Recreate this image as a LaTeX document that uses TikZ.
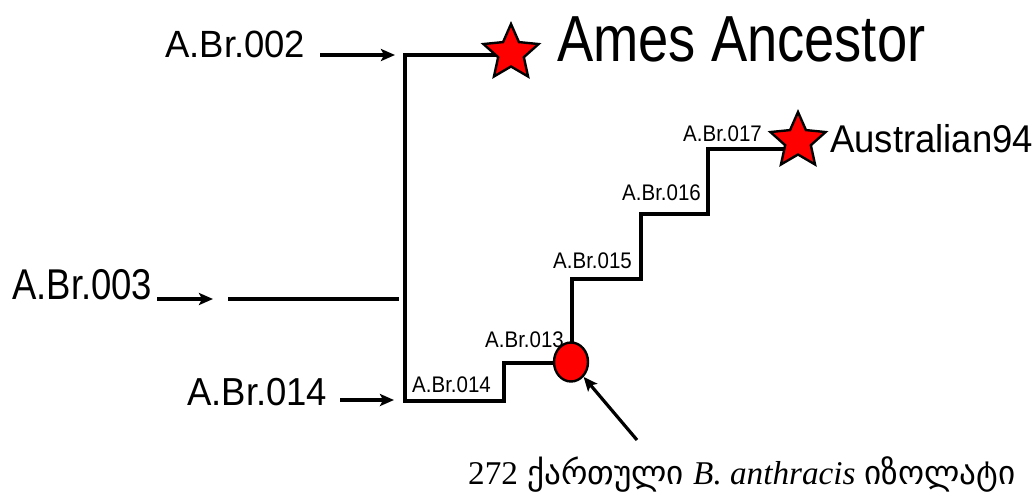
\documentclass[tikz,border=0pt]{standalone}
\usepackage{fontspec}
\setmainfont{Liberation Sans}
\newfontfamily\geofont[Script=Georgian]{DejaVu Sans}
\newfontfamily\serifrm{Liberation Serif}
\usetikzlibrary{shapes.geometric,arrows.meta,backgrounds}
\newcommand\vstretch[2]{\scalebox{1}[#1]{#2}}
\tikzset{
  tree/.style={line width=3.4pt, line join=miter},
  arr/.style={line width=3.2pt, -{Stealth[length=14pt,width=12pt,inset=3pt]}},
  biglab/.style={font=\fontsize{36.5}{40}\selectfont, inner sep=0pt, anchor=base west},
  smalllab/.style={font=\fontsize{20.5}{24}\selectfont, inner sep=0pt, anchor=base west},
  hugelab/.style={font=\fontsize{54.3}{60}\selectfont, inner sep=0pt, anchor=base west},
  redstar/.style={star, star points=5, star point ratio=2.15, fill=red, draw=black,
    line width=2.4pt, minimum size=58pt, inner sep=0pt},
  reddot/.style={ellipse, fill=red, draw=black, line width=2.4pt,
    minimum width=34pt, minimum height=39pt, inner sep=0pt},
  geolab/.style={font=\fontsize{33.2}{40}\selectfont, inner sep=0pt, anchor=base west}
}
\begin{document}
\begin{tikzpicture}[x=1pt,y=-1pt]
\useasboundingbox (0,0) rectangle (1035,496);
% labels
\node[biglab] (l002) at (165,57) {\vstretch{1.04}{A.Br.002}};
\node[biglab] (l003) at (12,299) {\vstretch{1.18}{A.Br.003}};
\node[biglab] (l014) at (187,405) {\vstretch{1.07}{A.Br.014}};
\node[hugelab] (tames) at (557,61) {\vstretch{1.2}{Ames Ancestor}};
\node[biglab] (taus) at (830,152) {\vstretch{1.06}{Australian94}};
\node[smalllab] (s014) at (412,392) {\vstretch{1.1}{A.Br.014}};
\node[smalllab] (s013) at (485,347) {\vstretch{1.1}{A.Br.013}};
\node[smalllab] (s015) at (553,268) {\vstretch{1.1}{A.Br.015}};
\node[smalllab] (s016) at (622,200) {\vstretch{1.1}{A.Br.016}};
\node[smalllab] (s017) at (683,141) {\vstretch{1.1}{A.Br.017}};
\node[geolab] (geo) at (468,484) {{\serifrm 272} {\geofont ქართული} {\serifrm\itshape B. anthracis} {\geofont იზოლატი}};
% markers
\node[redstar] (ames) at (511,53) {};
\node[redstar] (aus) at (798,141) {};
\node[reddot] (circ) at (571,362) {};
% tree coordinates
\coordinate (rtop) at (405,55);
\coordinate (rbot) at (405,401);
\coordinate (s003) at (228,299);
\coordinate (e003) at (399,299);
\coordinate (b1) at (504,401);
\coordinate (b2) at (504,363);
\coordinate (c1) at (572,279);
\coordinate (c2) at (641,279);
\coordinate (c3) at (641,214);
\coordinate (c4) at (708,214);
\coordinate (c5) at (708,149);
\coordinate (atail) at (637,440);
\begin{scope}[on background layer]
  \fill[white] (0,0) rectangle (1035,496);
  \draw[tree] (rtop -| ames.center) -- (rtop) -- (rbot) -- (b1) -- (b2) -- (b2 -| circ.center);
  \draw[tree] (circ.center -| c1) -- (c1) -- (c2) -- (c3) -- (c4) -- (c5) -- (c5 -| aus.center);
  \draw[tree] (s003) -- (e003);
\end{scope}
% arrows
\draw[arr, shorten <=15pt, shorten >=10pt] (l002.east |- rtop) -- (rtop);
\draw[arr, shorten <=5pt, shorten >=15pt] (l003.east |- s003) -- (s003);
\draw[arr, shorten <=13pt, shorten >=11pt] (l014.east |- 0,400) -- (rbot |- 0,400);
\draw[arr] (atail) -- (circ);
\end{tikzpicture}
\end{document}
